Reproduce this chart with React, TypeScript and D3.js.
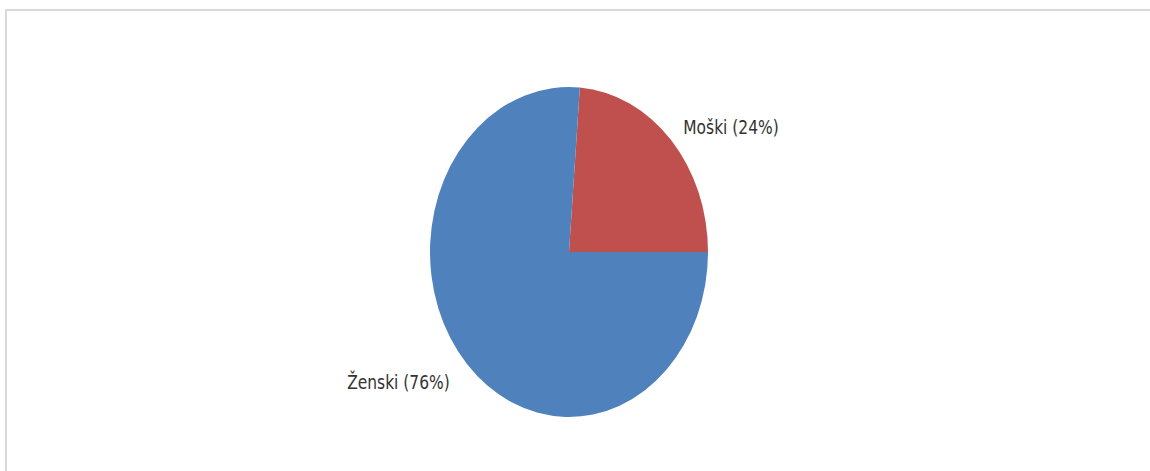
import React from "react";
import * as d3 from "d3";

const categories = ["Moški", "Ženski"];
const values = [19, 61];
const colors = ["#c0504d", "#4f81bd"];

const W = 1150;
const H = 471;
const cx = 569;
const cy = 252;
const rx = 139;
const ry = 165;

export default function App() {
  const total = d3.sum(values);
  const start = Math.PI / 2 - (values[0] / total) * 2 * Math.PI;
  const pie = d3
    .pie<number>()
    .sort(null)
    .startAngle(start)
    .endAngle(start + 2 * Math.PI);
  const arcs = pie(values);
  const arc = d3.arc<d3.PieArcDatum<number>>().innerRadius(0).outerRadius(1);
  const labelR = 1.1;
  const stretch = 1.15;

  return (
    <svg
      width={W}
      height={H}
      style={{ position: "absolute", left: 0, top: 0, background: "#fff" }}
    >
      <rect x={6} y={10} width={W + 10} height={H + 10} fill="#fff" stroke="#d9d9d9" strokeWidth={2} />
      <g transform={`translate(${cx},${cy}) scale(${rx},${ry})`}>
        {arcs.map((a, i) => (
          <path key={categories[i]} d={arc(a) || ""} fill={colors[i]} />
        ))}
      </g>
      {arcs.map((a, i) => {
        const mid = (a.startAngle + a.endAngle) / 2;
        const sx = Math.sin(mid);
        const x = cx + sx * rx * labelR;
        const y = cy - Math.cos(mid) * ry * labelR;
        const right = sx >= 0;
        const pct = Math.round((values[i] / total) * 100);
        const tx = right ? x + 2 : x - 7;
        const ty = right ? y + 5 : y + 13.5;
        return (
          <text
            key={categories[i]}
            transform={`translate(${tx},${ty}) scale(1,${stretch})`}
            textAnchor={right ? "start" : "end"}
            fontFamily="'DejaVu Sans Condensed', 'DejaVu Sans', sans-serif"
            fontStretch="condensed"
            fontSize={17.2}
            fill="#333"
          >
            {`${categories[i]} (${pct}%)`}
          </text>
        );
      })}
    </svg>
  );
}
